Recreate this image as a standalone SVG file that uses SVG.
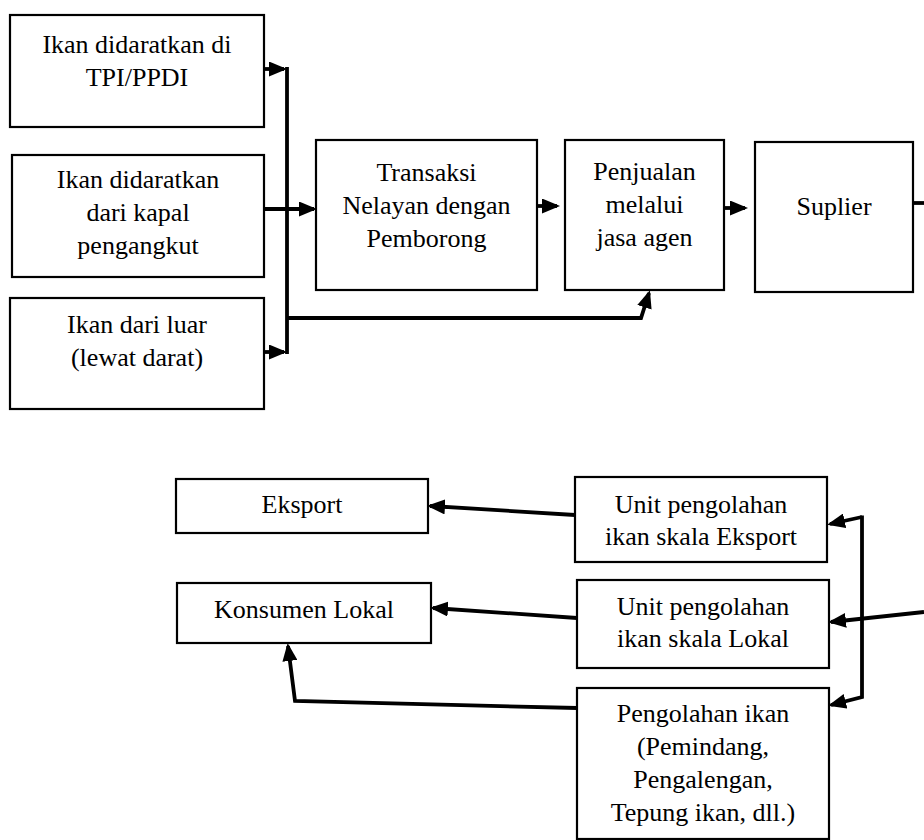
<svg xmlns="http://www.w3.org/2000/svg" width="924" height="840" viewBox="0 0 924 840">
  <style>
    .box { fill: #fff; stroke: #000; stroke-width: 2.2; }
    .lbl { font-family: "Liberation Serif", "Times New Roman", serif; font-size: 26px; fill: #000; text-anchor: middle; }
    .wire { fill: none; stroke: #000; stroke-width: 3.8; stroke-linejoin: miter; }
    .arr { marker-end: url(#head); }
  </style>
  <defs>
    <marker id="head" markerUnits="userSpaceOnUse" markerWidth="18" markerHeight="15" refX="15" refY="7.5" orient="auto">
      <path d="M0,0 L18,7.5 L0,15 z" fill="#000"/>
    </marker>
  </defs>

  <!-- upper flow: landing sources to supplier -->
  <g id="src-tpi">
    <rect class="box" x="10" y="15" width="254" height="112"/>
    <text class="lbl" x="137" y="53">Ikan didaratkan di</text>
    <text class="lbl" x="137" y="86">TPI/PPDI</text>
  </g>
  <g id="src-kapal">
    <rect class="box" x="12" y="155" width="252" height="122"/>
    <text class="lbl" x="138" y="188">Ikan didaratkan</text>
    <text class="lbl" x="138" y="221">dari kapal</text>
    <text class="lbl" x="138" y="254">pengangkut</text>
  </g>
  <g id="src-darat">
    <rect class="box" x="10" y="298" width="254" height="111"/>
    <text class="lbl" x="137" y="333">Ikan dari luar</text>
    <text class="lbl" x="137" y="366">(lewat darat)</text>
  </g>
  <g id="transaksi">
    <rect class="box" x="316" y="140" width="221" height="150"/>
    <text class="lbl" x="426.5" y="181">Transaksi</text>
    <text class="lbl" x="426.5" y="214">Nelayan dengan</text>
    <text class="lbl" x="426.5" y="247">Pemborong</text>
  </g>
  <g id="penjualan">
    <rect class="box" x="565" y="140" width="159" height="150"/>
    <text class="lbl" x="644.5" y="180">Penjualan</text>
    <text class="lbl" x="644.5" y="213">melalui</text>
    <text class="lbl" x="644.5" y="246">jasa agen</text>
  </g>
  <g id="suplier">
    <rect class="box" x="755" y="142" width="158" height="150"/>
    <text class="lbl" x="834" y="215">Suplier</text>
  </g>

  <!-- lower flow: processing units to markets -->
  <g id="eksport">
    <rect class="box" x="176" y="479" width="252" height="54"/>
    <text class="lbl" x="302" y="513">Eksport</text>
  </g>
  <g id="konsumen-lokal">
    <rect class="box" x="177" y="583" width="254" height="60"/>
    <text class="lbl" x="304" y="618">Konsumen Lokal</text>
  </g>
  <g id="unit-eksport">
    <rect class="box" x="575" y="477" width="252" height="85"/>
    <text class="lbl" x="701" y="513">Unit pengolahan</text>
    <text class="lbl" x="701" y="545">ikan skala Eksport</text>
  </g>
  <g id="unit-lokal">
    <rect class="box" x="577" y="580" width="252" height="88"/>
    <text class="lbl" x="703" y="615">Unit pengolahan</text>
    <text class="lbl" x="703" y="647">ikan skala Lokal</text>
  </g>
  <g id="pengolahan">
    <rect class="box" x="577" y="688" width="252" height="151"/>
    <text class="lbl" x="703" y="722">Pengolahan ikan</text>
    <text class="lbl" x="703" y="755">(Pemindang,</text>
    <text class="lbl" x="703" y="788">Pengalengan,</text>
    <text class="lbl" x="703" y="821">Tepung ikan, dll.)</text>
  </g>

  <g id="connectors">
    <!-- collector bus on the left -->
    <path class="wire" d="M287,67 L287,354"/>
    <path class="wire arr" d="M264,69 L284,69"/>
    <path class="wire arr" d="M264,352 L284,352"/>
    <path class="wire arr" d="M264,209 L314,209"/>
    <path class="wire arr" d="M287,318 L641,318 L649,293"/>
    <path class="wire arr" d="M537,206 L557,206"/>
    <path class="wire arr" d="M724,208 L745,208"/>
    <path class="wire" d="M913,203 L924,203"/>

    <!-- distribution to processing units -->
    <path class="wire arr" d="M924,612 L831,622"/>
    <path class="wire arr" d="M862,517 L830,524"/>
    <path class="wire arr" d="M862,515.5 L862,697 L831,705"/>

    <!-- processing units to markets -->
    <path class="wire arr" d="M575,515 L430,506"/>
    <path class="wire arr" d="M577,618 L433,608"/>
    <path class="wire arr" d="M577,708 L295,701 L288,646"/>
  </g>
</svg>
